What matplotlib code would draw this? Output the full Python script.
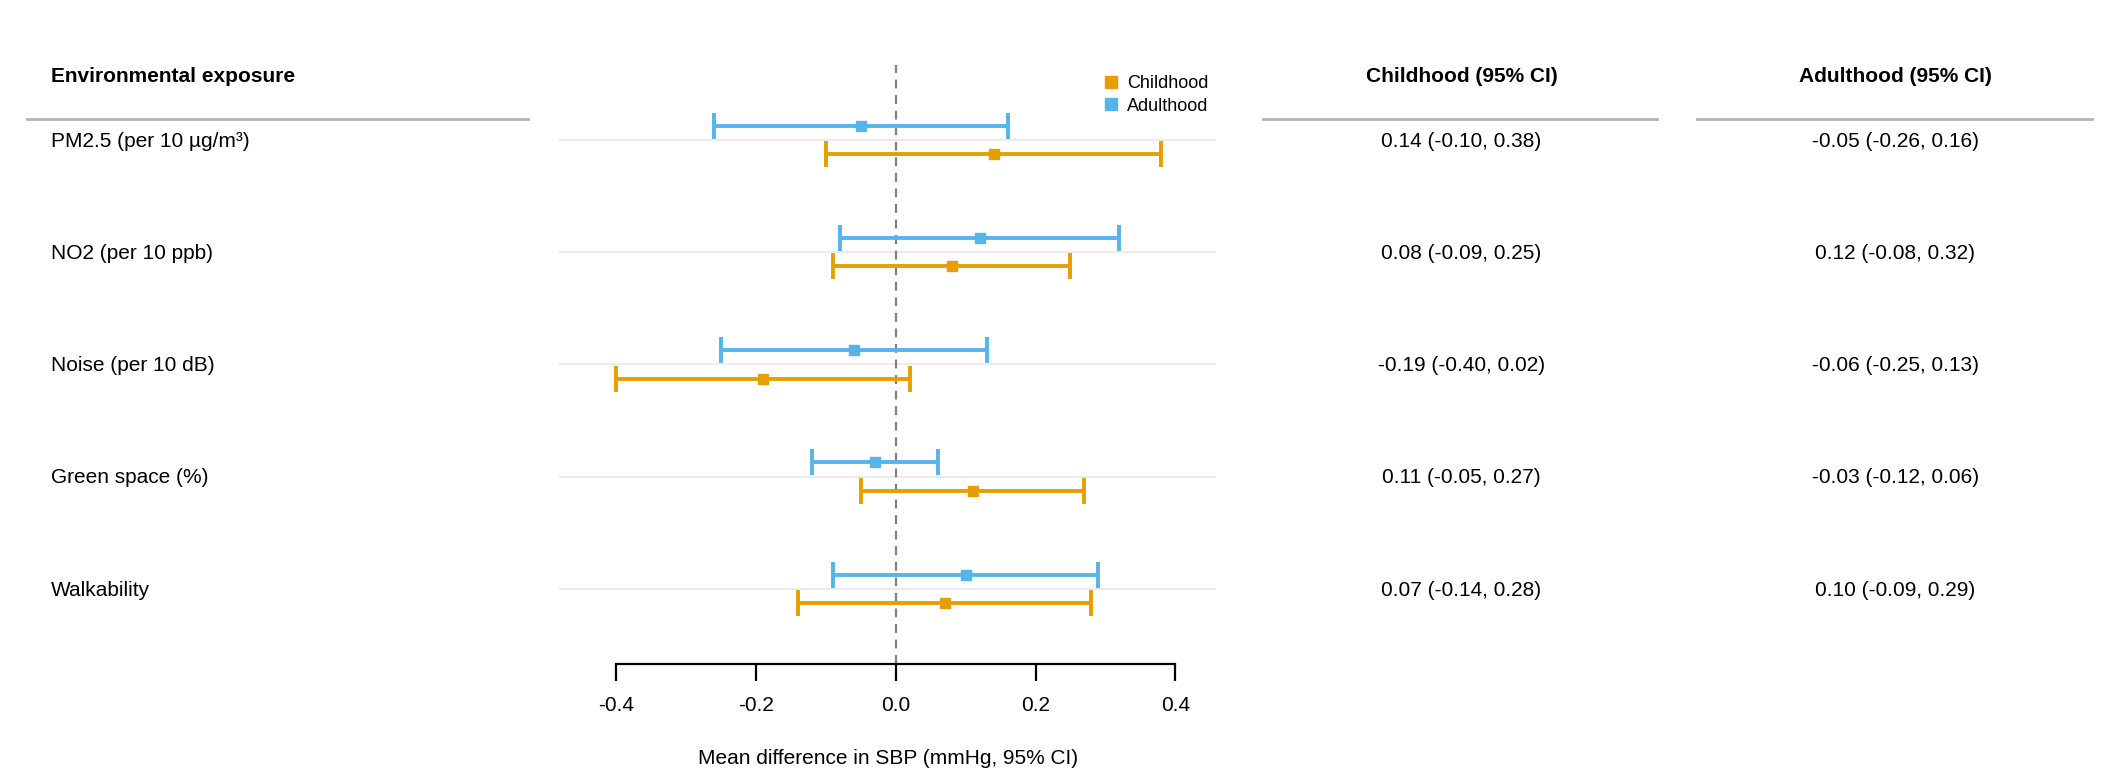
import matplotlib
matplotlib.use("Agg")
import matplotlib.pyplot as plt
from matplotlib.lines import Line2D
from matplotlib import transforms

plt.rcParams['font.family'] = ['Liberation Sans', 'DejaVu Sans']

exposures = ["PM2.5 (per 10 µg/m³)", "NO2 (per 10 ppb)", "Noise (per 10 dB)",
             "Green space (%)", "Walkability"]
child_est = [0.14, 0.08, -0.19, 0.11, 0.07]
child_lo = [-0.10, -0.09, -0.40, -0.05, -0.14]
child_hi = [0.38, 0.25, 0.02, 0.27, 0.28]
adult_est = [-0.05, 0.12, -0.06, -0.03, 0.10]
adult_lo = [-0.26, -0.08, -0.25, -0.12, -0.09]
adult_hi = [0.16, 0.32, 0.13, 0.06, 0.29]
xticks = [-0.4, -0.2, 0.0, 0.2, 0.4]

C_CHILD = "#E69F00"
C_ADULT = "#56B4E9"

W, H = 1568.0, 570.0  # reference layout units
fig = plt.figure(figsize=(21.12, 7.68), dpi=100)

def fx(x):
    return x / W

def fy(y):
    return 1 - y / H

ax = fig.add_axes([fx(415), fy(493), fx(903) - fx(415), fy(48) - fy(493)])
n = len(exposures)
rows = list(range(n))
off = 0.126

for i in rows:
    ax.axhline(i, color="#e8e8e8", lw=1.2, zorder=0)

ax.axvline(0, color="#808080", lw=1.6, ls=(0, (4, 3)), zorder=1)

for est, lo, hi, col, d in [(child_est, child_lo, child_hi, C_CHILD, off),
                            (adult_est, adult_lo, adult_hi, C_ADULT, -off)]:
    ys = [r + d for r in rows]
    xerr = [[e - l for e, l in zip(est, lo)], [h - e for e, h in zip(est, hi)]]
    ax.errorbar(est, ys, xerr=xerr, fmt='s', color=col, ms=7.5, lw=2.8,
                capsize=9.5, capthick=2.8, zorder=3)

ax.set_ylim(n - 1 + 0.673, -0.673)
ax.set_xlim(-0.4817, 0.4586)
for s in ["top", "right", "left"]:
    ax.spines[s].set_visible(False)
ax.spines["bottom"].set_bounds(-0.4, 0.4)
ax.spines["bottom"].set_linewidth(1.6)
ax.set_yticks([])
ax.set_xticks(xticks)
ax.set_xticklabels([f"{t:.1f}" for t in xticks])
ax.tick_params(axis='x', length=12, width=1.6, pad=11, labelsize=15)
ax.set_xlabel("Mean difference in SBP (mmHg, 95% CI)", fontsize=15, labelpad=24)
ax.patch.set_alpha(0)

handles = [Line2D([], [], marker='s', ls='none', color=C_CHILD, ms=8, label="Childhood"),
           Line2D([], [], marker='s', ls='none', color=C_ADULT, ms=8, label="Adulthood")]
fig.legend(handles=handles, loc='upper left', bbox_to_anchor=(fx(818), fy(56)),
           frameon=False, fontsize=13, handletextpad=0.4, labelspacing=0.28,
           handlelength=1.0, borderaxespad=0, borderpad=0)

# table
tr = transforms.blended_transform_factory(fig.transFigure, ax.transData)
fig.text(fx(38), fy(57), "Environmental exposure", fontsize=15, fontweight='bold',
         ha='left', va='center')
fig.text(fx(1085), fy(57), "Childhood (95% CI)", fontsize=15, fontweight='bold',
         ha='center', va='center')
fig.text(fx(1407), fy(57), "Adulthood (95% CI)", fontsize=15, fontweight='bold',
         ha='center', va='center')
for x0, x1 in [(20, 392), (938, 1230), (1260, 1553)]:
    fig.add_artist(Line2D([fx(x0), fx(x1)], [fy(88), fy(88)], color="#b3b3b3", lw=2.0))

for i in rows:
    y = i + 0.012
    fig.text(fx(38), y, exposures[i], transform=tr, fontsize=15, ha='left', va='center')
    fig.text(fx(1085), y, f"{child_est[i]:.2f} ({child_lo[i]:.2f}, {child_hi[i]:.2f})",
             transform=tr, fontsize=15, ha='center', va='center')
    fig.text(fx(1407), y, f"{adult_est[i]:.2f} ({adult_lo[i]:.2f}, {adult_hi[i]:.2f})",
             transform=tr, fontsize=15, ha='center', va='center')

fig.savefig("out.png", dpi=100, facecolor="white")
